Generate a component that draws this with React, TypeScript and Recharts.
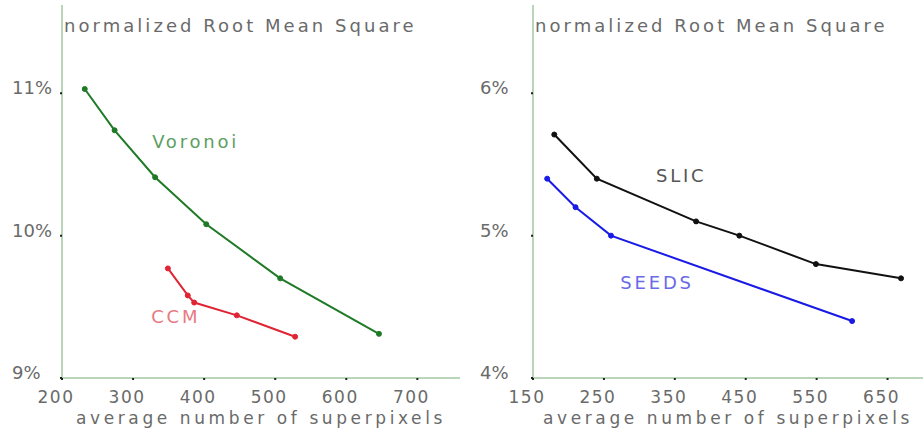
import React from "react";
import { LineChart, Line, XAxis, YAxis, ReferenceDot } from "recharts";

// left panel: Voronoi vs CCM
const voronoiX = [232, 274, 331, 403, 507, 646];
const voronoiY = [11.03, 10.74, 10.41, 10.08, 9.7, 9.31];
const ccmX = [349, 377, 386, 446, 528];
const ccmY = [9.77, 9.58, 9.53, 9.44, 9.29];

// right panel: SLIC vs SEEDS
const slicX = [180, 240, 380, 441, 549, 669];
const slicY = [5.71, 5.4, 5.1, 5.0, 4.8, 4.7];
const seedsX = [170, 210, 260, 600];
const seedsY = [5.4, 5.2, 5.0, 4.4];

const leftXTicks = [200, 300, 400, 500, 600, 700];
const leftYTicks = [9, 10, 11];
const rightXTicks = [150, 250, 350, 450, 550, 650];
const rightYTicks = [4, 5, 6];

const title = "normalized Root Mean Square";
const xTitle = "average number of superpixels";

const FONT = "'DejaVu Sans', sans-serif";
const AXIS_GREEN = "#a3c9a3";
const TEXT_GRAY = "#6a6a6a";

const zip = (xs: number[], ys: number[]) => xs.map((x, i) => ({ x, y: ys[i] }));

const YTick = (props: any) => {
  const { x, y, payload, shift } = props;
  return (
    <text
      x={x - shift}
      y={y}
      dy={1}
      textAnchor="start"
      fontFamily={FONT}
      fontSize={18}
      fill={TEXT_GRAY}
    >
      {payload.value}%
    </text>
  );
};

const seriesLabel = (text: string, color: string) => (p: any) => (
  <text
    x={p.cx}
    y={p.cy}
    textAnchor="middle"
    dominantBaseline="central"
    fontFamily={FONT}
    fontSize={18}
    letterSpacing={2.8}
    fill={color}
  >
    {text}
  </text>
);

function Panel(props: {
  width: number;
  yWidth: number;
  xDomain: [number, number];
  yDomain: [number, number];
  xTicks: number[];
  yTicks: number[];
  shift: number;
  children: React.ReactNode;
}) {
  const { width, yWidth, xDomain, yDomain, xTicks, yTicks, shift } = props;
  return (
    <div style={{ position: "relative", width, height: 430 }}>
      <LineChart width={width} height={430} margin={{ top: 5, right: 0, bottom: 0, left: 0 }}>
        <XAxis
          type="number"
          dataKey="x"
          domain={xDomain}
          ticks={xTicks}
          allowDataOverflow
          height={52}
          axisLine={{ stroke: AXIS_GREEN, strokeWidth: 1.5 }}
          tickLine={{ stroke: "#222", strokeWidth: 2 }}
          tickSize={2}
          tickMargin={11}
          tick={{ fontFamily: FONT, fontSize: 17, fill: TEXT_GRAY, letterSpacing: 1.5, dx: -6 }}
          label={{
            value: xTitle,
            position: "insideBottom",
            offset: 6,
            fontFamily: FONT,
            fontSize: 17,
            letterSpacing: 3.6,
            fill: TEXT_GRAY,
          }}
        />
        <YAxis
          type="number"
          domain={yDomain}
          ticks={yTicks}
          allowDataOverflow
          width={yWidth}
          axisLine={{ stroke: AXIS_GREEN, strokeWidth: 1.5 }}
          tickLine={{ stroke: "#222", strokeWidth: 2 }}
          tickSize={2}
          tickMargin={3}
          tick={<YTick shift={shift} />}
        />
        {props.children}
      </LineChart>
      <div
        style={{
          position: "absolute",
          left: yWidth + 2,
          top: 15,
          fontFamily: FONT,
          fontSize: 18,
          letterSpacing: 3.05,
          color: TEXT_GRAY,
          whiteSpace: "nowrap",
        }}
      >
        {title}
      </div>
    </div>
  );
}

export default function App() {
  return (
    <div style={{ position: "absolute", left: 0, top: 0, width: 923, height: 430, display: "flex", background: "#fff" }}>
      <Panel width={460} yWidth={62} xDomain={[200, 760]} yDomain={[9, 11.62]} xTicks={leftXTicks} yTicks={leftYTicks} shift={45}>
        <Line
          data={zip(voronoiX, voronoiY)}
          dataKey="y"
          stroke="#1f7a26"
          strokeWidth={2}
          dot={{ r: 2.5, fill: "#1f7a26", stroke: "#1f7a26", strokeWidth: 1 }}
          isAnimationActive={false}
        />
        <Line
          data={zip(ccmX, ccmY)}
          dataKey="y"
          stroke="#e02433"
          strokeWidth={2}
          dot={{ r: 2.5, fill: "#e02433", stroke: "#e02433", strokeWidth: 1 }}
          isAnimationActive={false}
        />
        <ReferenceDot x={388} y={10.66} r={1} shape={seriesLabel("Voronoi", "#5e9e62")} />
        <ReferenceDot x={360} y={9.43} r={1} shape={seriesLabel("CCM", "#e77a82")} />
      </Panel>
      <Panel width={463} yWidth={73} xDomain={[150, 700]} yDomain={[4, 6.62]} xTicks={rightXTicks} yTicks={rightYTicks} shift={48}>
        <Line
          data={zip(slicX, slicY)}
          dataKey="y"
          stroke="#111"
          strokeWidth={2}
          dot={{ r: 2.5, fill: "#111", stroke: "#111", strokeWidth: 1 }}
          isAnimationActive={false}
        />
        <Line
          data={zip(seedsX, seedsY)}
          dataKey="y"
          stroke="#1a1ae6"
          strokeWidth={2}
          dot={{ r: 2.5, fill: "#1a1ae6", stroke: "#1a1ae6", strokeWidth: 1 }}
          isAnimationActive={false}
        />
        <ReferenceDot x={359} y={5.42} r={1} shape={seriesLabel("SLIC", "#555")} />
        <ReferenceDot x={325} y={4.67} r={1} shape={seriesLabel("SEEDS", "#6a6ae6")} />
      </Panel>
    </div>
  );
}
